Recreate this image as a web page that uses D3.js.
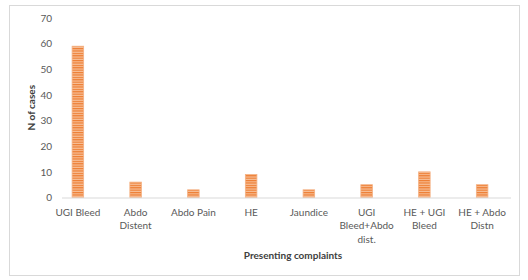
<!DOCTYPE html>
<html>
<head>
<meta charset="utf-8">
<script src="https://cdn.jsdelivr.net/npm/d3@7"></script>
<style>
  body { margin: 0; background: #fff; }
  svg { font-family: Lato, "Liberation Sans", sans-serif; }
</style>
</head>
<body>
<svg width="528" height="280"></svg>
<script>
const categories = ['UGI Bleed', 'Abdo Distent', 'Abdo Pain', 'HE', 'Jaundice', 'UGI Bleed+Abdo dist.', 'HE + UGI Bleed', 'HE + Abdo Distn']
const cases = [59, 6, 3, 9, 3, 5, 10, 5]
const yTicks = [0, 10, 20, 30, 40, 50, 60, 70]

const margin = { top: 18, bottom: 83, left: 49, right: 17 }
const width = 528
const height = 280

const svg = d3.select('svg')

/** chart border */
svg.append('rect')
  .attr('x', 9.5).attr('y', 5.5)
  .attr('width', 510).attr('height', 270)
  .attr('fill', '#fff')
  .attr('stroke', '#d9d9d9')

/** striped fill like the Excel pattern */
const pat = svg.append('defs').append('pattern')
  .attr('id', 'stripes')
  .attr('patternUnits', 'userSpaceOnUse')
  .attr('width', 4).attr('height', 2.4)
pat.append('rect').attr('width', 4).attr('height', 2.4).attr('fill', '#f7c09a')
pat.append('rect').attr('width', 4).attr('height', 1.2).attr('fill', '#ed7d31')

const xScale = d3.scaleBand()
  .domain(categories)
  .range([margin.left, width - margin.right])
  .paddingInner(0.8)
  .paddingOuter(0.4)

const yScale = d3.scaleLinear()
  .domain([0, 70])
  .range([height - margin.bottom + 0.5, margin.top])

svg.selectAll('rect.bar')
  .data(categories)
  .enter()
  .append('rect')
  .attr('class', 'bar')
  .attr('x', d => xScale(d))
  .attr('width', xScale.bandwidth())
  .attr('y', (d, i) => yScale(cases[i]))
  .attr('height', (d, i) => yScale(0) - yScale(cases[i]))
  .attr('fill', 'url(#stripes)')
  .attr('stroke', '#f4b183')
  .attr('stroke-width', 0.8)

/** y axis: labels only */
const yAxis = d3.axisLeft(yScale).tickValues(yTicks).tickSize(0).tickPadding(0)
svg.append('g')
  .attr('transform', `translate(${margin.left + 3},0)`)
  .call(yAxis)
  .call(g => g.select('.domain').remove())
  .call(g => g.selectAll('text').attr('fill', '#595959').attr('font-size', 10).attr('font-family', 'Lato, sans-serif'))

/** x axis line */
svg.append('line')
  .attr('x1', 62).attr('x2', width - margin.right)
  .attr('y1', yScale(0) + 0.5).attr('y2', yScale(0) + 0.5)
  .attr('stroke', '#d9d9d9')

/** wrapped category labels */
const wrap = (text, w) => {
  text.each(function () {
    const t = d3.select(this)
    const words = t.text().split(/\s+/)
    t.text(null)
    let line = []
    let n = 0
    let tspan = t.append('tspan').attr('x', t.attr('x')).attr('dy', 0)
    words.forEach(word => {
      line.push(word)
      tspan.text(line.join(' '))
      if (tspan.node().getComputedTextLength() > w && line.length > 1) {
        line.pop()
        tspan.text(line.join(' '))
        line = [word]
        n++
        tspan = t.append('tspan').attr('x', t.attr('x')).attr('dy', 13.5).text(word)
      }
    })
  })
}

svg.selectAll('text.cat')
  .data(categories)
  .enter()
  .append('text')
  .attr('class', 'cat')
  .attr('x', d => xScale(d) + xScale.bandwidth() / 2)
  .attr('y', yScale(0) + 18)
  .attr('text-anchor', 'middle')
  .attr('font-size', 10)
  .attr('fill', '#595959')
  .text(d => d)
  .call(wrap, 50)

/** axis titles */
svg.append('text')
  .attr('x', 293).attr('y', 259)
  .attr('text-anchor', 'middle')
  .attr('font-size', 10)
  .attr('font-weight', 'bold')
  .attr('fill', '#404040')
  .text('Presenting complaints')

svg.append('text')
  .attr('transform', `translate(35, ${(yScale(0) + yScale(70)) / 2}) rotate(-90)`)
  .attr('text-anchor', 'middle')
  .attr('font-size', 10)
  .attr('font-weight', 'bold')
  .attr('fill', '#404040')
  .text('N of cases')
</script>
</body>
</html>
